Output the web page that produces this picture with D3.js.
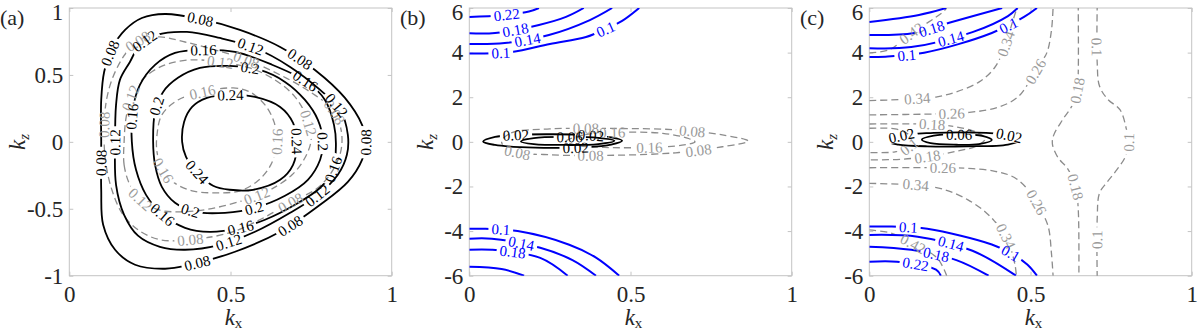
<!DOCTYPE html>
<html>
<head>
<meta charset="utf-8">
<script src="https://cdn.jsdelivr.net/npm/d3@7"></script>
<style>
body { margin: 0; background: #fff; }
svg { display: block; font-family: "Liberation Serif", "DejaVu Serif", serif; }
</style>
</head>
<body>
<div id="chart"></div>
<script>
////////////////////////////////////////////////////////////
//////////////////////// Data //////////////////////////////
////////////////////////////////////////////////////////////

var panelNames = ["(a)", "(b)", "(c)"];
var xTicks = [0, 0.5, 1];
var yTicksA = [-1, -0.5, 0, 0.5, 1];
var yTicksBC = [-6, -4, -2, 0, 2, 4, 6];

// contour lines, as [kx, kz] points
// panel (a) : black solid
var aK08 = [[0.099,0],[0.099,0.313],[0.108,0.522],[0.133,0.70],[0.173,0.836],[0.225,0.925],[0.297,0.955],[0.405,0.918],[0.529,0.836],[0.654,0.709],[0.762,0.537],[0.855,0.328],[0.908,0.127],[0.920,0],[0.908,-0.134],[0.864,-0.299],[0.778,-0.470],[0.654,-0.672],[0.514,-0.821],[0.374,-0.918],[0.297,-0.948],[0.204,-0.918],[0.142,-0.806],[0.105,-0.619],[0.099,-0.358]];
var aK12 = [[0.142,0],[0.145,0.276],[0.157,0.463],[0.188,0.597],[0.219,0.724],[0.272,0.799],[0.365,0.821],[0.467,0.776],[0.576,0.701],[0.685,0.560],[0.778,0.388],[0.840,0.239],[0.864,0.052],[0.861,-0.097],[0.833,-0.246],[0.771,-0.396],[0.685,-0.530],[0.576,-0.672],[0.467,-0.769],[0.359,-0.806],[0.281,-0.784],[0.213,-0.701],[0.170,-0.545],[0.145,-0.321]];
var aK16 = [[0.194,0],[0.197,0.239],[0.219,0.425],[0.266,0.575],[0.328,0.664],[0.415,0.687],[0.514,0.672],[0.623,0.582],[0.737,0.448],[0.793,0.313],[0.821,0.127],[0.827,-0.022],[0.818,-0.209],[0.778,-0.343],[0.700,-0.470],[0.607,-0.582],[0.529,-0.642],[0.436,-0.672],[0.359,-0.642],[0.290,-0.545],[0.238,-0.396],[0.207,-0.209]];
var aK20 = [[0.260,0],[0.266,0.224],[0.291,0.373],[0.337,0.478],[0.405,0.552],[0.498,0.567],[0.591,0.537],[0.669,0.448],[0.731,0.313],[0.771,0.164],[0.787,0],[0.778,-0.134],[0.740,-0.284],[0.669,-0.403],[0.576,-0.493],[0.483,-0.530],[0.390,-0.522],[0.328,-0.455],[0.287,-0.336],[0.266,-0.172]];
var aK24 = [[0.350,0],[0.356,0.149],[0.381,0.261],[0.427,0.328],[0.498,0.351],[0.576,0.336],[0.654,0.261],[0.694,0.142],[0.706,-0.007],[0.694,-0.172],[0.654,-0.284],[0.570,-0.358],[0.498,-0.358],[0.446,-0.328],[0.396,-0.224],[0.362,-0.112]];
// panel (a) : grey dashed
var aG08 = [[0.108,0],[0.111,0.239],[0.124,0.403],[0.145,0.537],[0.176,0.664],[0.219,0.761],[0.281,0.784],[0.359,0.746],[0.452,0.687],[0.551,0.612],[0.654,0.500],[0.747,0.373],[0.818,0.239],[0.843,0.090],[0.843,-0.060],[0.818,-0.209],[0.771,-0.343],[0.685,-0.455],[0.591,-0.582],[0.498,-0.679],[0.374,-0.731],[0.281,-0.731],[0.213,-0.657],[0.163,-0.530],[0.132,-0.358],[0.114,-0.172]];
var aG12 = [[0.170,0],[0.170,-0.172],[0.188,-0.321],[0.222,-0.433],[0.275,-0.507],[0.359,-0.522],[0.452,-0.493],[0.545,-0.433],[0.623,-0.358],[0.691,-0.246],[0.731,-0.119],[0.750,0.015],[0.737,0.179],[0.700,0.336],[0.638,0.463],[0.560,0.552],[0.467,0.597],[0.374,0.612],[0.297,0.575],[0.235,0.485],[0.194,0.351],[0.176,0.179]];
var aG16 = [[0.272,0.052],[0.287,0.201],[0.337,0.313],[0.415,0.373],[0.508,0.403],[0.560,0.373],[0.607,0.276],[0.635,0.149],[0.644,-0.007],[0.625,-0.172],[0.585,-0.291],[0.529,-0.366],[0.452,-0.381],[0.381,-0.366],[0.322,-0.299],[0.287,-0.194],[0.272,-0.075]];

// label positions, panel (a)
var aK08Lab = [[0.127,0.664],[0.405,0.896],[0.709,0.597],[0.914,0],[0.691,-0.642],[0.393,-0.881],[0.092,-0.157]];
var aK12Lab = [[0.229,0.761],[0.560,0.709],[0.840,0.291],[0.778,-0.433],[0.498,-0.769],[0.136,0]];
var aK16Lab = [[0.194,0.187],[0.415,0.687],[0.737,0.463],[0.818,-0.209],[0.529,-0.642],[0.290,-0.545]];
var aK20Lab = [[0.275,0.261],[0.560,0.537],[0.787,0],[0.374,-0.530],[0.576,-0.507]];
var aK24Lab = [[0.498,0.351],[0.706,0],[0.396,-0.224]];
var aG08Lab = [[0.210,0.761],[0.551,0.612],[0.108,0.127],[0.827,0.224],[0.685,-0.455],[0.374,-0.731]];
var aG12Lab = [[0.179,0.336],[0.467,0.590],[0.744,0.142],[0.222,-0.433],[0.582,-0.410]];
var aG16Lab = [[0.415,0.373],[0.641,0],[0.290,-0.209]];

// panel (b) : blue solid
var bB10Top = [[0,3.96],[0.132,4.03],[0.25,4.39],[0.362,4.70],[0.424,5.06],[0.474,5.42],[0.527,6.0]];
var bB14Top = [[0,4.39],[0.11,4.43],[0.247,4.79],[0.374,5.46],[0.443,6.0]];
var bB18Top = [[0,4.87],[0.08,4.88],[0.216,5.24],[0.30,5.6],[0.355,6.0]];
var bB22Top = [[0,5.6],[0.1,5.68],[0.185,5.84],[0.216,6.0]];
var bB10Bot = [[0,-3.9],[0.05,-3.9],[0.15,-4.0],[0.31,-4.61],[0.393,-5.19],[0.465,-6.0]];
var bB14Bot = [[0,-4.34],[0.07,-4.34],[0.22,-4.75],[0.32,-5.3],[0.393,-6.0]];
var bB18Bot = [[0,-4.84],[0.07,-4.84],[0.22,-5.2],[0.305,-6.0]];
var bB22Bot = [[0,-5.6],[0.1,-5.7],[0.17,-6.0]];
// panel (b) : black solid, grey dashed
var bK02 = [[0.043,0.01],[0.08,0.22],[0.16,0.32],[0.26,0.34],[0.37,0.3],[0.44,0.2],[0.474,0.05],[0.44,-0.12],[0.36,-0.24],[0.26,-0.27],[0.16,-0.24],[0.08,-0.14]];
var bK06 = [[0.16,0.02],[0.2,0.17],[0.3,0.22],[0.4,0.18],[0.45,0.05],[0.4,-0.1],[0.3,-0.14],[0.2,-0.1]];
var bG08 = [[0.1,0.0],[0.13,0.4],[0.25,0.58],[0.45,0.6],[0.64,0.54],[0.785,0.31],[0.865,0.03],[0.785,-0.22],[0.64,-0.49],[0.45,-0.6],[0.25,-0.58],[0.13,-0.4]];
var bG16 = [[0.3,0.02],[0.36,0.32],[0.48,0.43],[0.6,0.38],[0.68,0.15],[0.70,0.0],[0.66,-0.15],[0.55,-0.25],[0.42,-0.25],[0.33,-0.15]];

var bB10TopLab = [[0.098,4.0],[0.424,5.06]];
var bB14TopLab = [[0.18,4.57]];
var bB18TopLab = [[0.145,5.02]];
var bB22TopLab = [[0.117,5.72]];
var bB10BotLab = [[0.098,-3.94]];
var bB14BotLab = [[0.16,-4.55]];
var bB18BotLab = [[0.133,-5.0]];
var bK02Lab = [[0.145,0.3],[0.378,0.28],[0.331,-0.25]];
var bK06Lab = [[0.31,0.22]];
var bG08Lab = [[0.362,0.62],[0.69,0.5],[0.712,-0.3],[0.378,-0.6],[0.148,-0.4]];
var bG16Lab = [[0.442,0.42],[0.557,-0.22]];

// panel (c) : blue solid
var cB10Top = [[0,3.8],[0.05,3.82],[0.17,3.99],[0.38,4.88],[0.48,5.6],[0.52,6.0]];
var cB14Top = [[0,4.2],[0.13,4.25],[0.32,4.92],[0.43,5.64],[0.46,6.0]];
var cB18Top = [[0,4.79],[0.14,4.88],[0.256,5.37],[0.412,6.0]];
var cB22Top = [[0,5.37],[0.154,5.69],[0.238,6.0]];
var cB10Bot = [[0,-3.8],[0.07,-3.8],[0.18,-3.9],[0.38,-4.6],[0.44,-5.0],[0.49,-5.5],[0.52,-6]];
var cB14Bot = [[0,-4.17],[0.15,-4.25],[0.32,-4.88],[0.455,-6]];
var cB18Bot = [[0,-4.7],[0.13,-4.84],[0.27,-5.3],[0.37,-6]];
var cB22Bot = [[0,-5.37],[0.086,-5.37],[0.207,-5.73],[0.222,-6]];
// panel (c) : grey dashed
var cG42Top = [[0,3.99],[0.06,4.12],[0.132,4.88],[0.225,5.78],[0.24,6.0]];
var cG42Bot = [[0,-3.95],[0.07,-4.1],[0.14,-4.6],[0.21,-5.2],[0.24,-6]];
var cG34Top = [[0,1.85],[0.1,1.9],[0.15,1.95],[0.21,2.02],[0.27,2.24],[0.341,2.69],[0.388,3.31],[0.419,4.21],[0.446,5.46],[0.458,6]];
var cG34Bot = [[0,-1.86],[0.1,-1.9],[0.15,-1.93],[0.235,-2.15],[0.306,-2.6],[0.359,-3.13],[0.39,-3.58],[0.418,-4.07],[0.44,-4.84],[0.453,-5.6],[0.456,-6]];
var cG26Top = [[0,1.21],[0.2,1.25],[0.31,1.32],[0.4,1.55],[0.46,2.0],[0.5,2.78],[0.53,3.5],[0.551,4.0],[0.565,5.0],[0.57,6.0]];
var cG26Bot = [[0,-1.16],[0.2,-1.16],[0.3,-1.18],[0.39,-1.32],[0.45,-1.6],[0.5,-2.28],[0.53,-3.0],[0.555,-3.8],[0.565,-5.0],[0.57,-6]];
var cG18Left = [[0,0.8],[0.1,0.81],[0.194,0.79],[0.27,0.67],[0.33,0.45],[0.36,0.15],[0.33,-0.2],[0.27,-0.42],[0.18,-0.66],[0.1,-0.78],[0,-0.81]];
var cG10Left = [[0,0.61],[0.08,0.58],[0.12,0.35],[0.135,0.0],[0.12,-0.25],[0.08,-0.45],[0,-0.48]];
var cG18Right = [[0.648,6.2],[0.648,3.0],[0.645,2.3],[0.628,1.6],[0.6,1.0],[0.572,0.3],[0.568,-0.1],[0.585,-0.7],[0.615,-1.2],[0.64,-2.0],[0.648,-3.0],[0.65,-6.2]];
var cG10Right = [[0.707,6.2],[0.707,3.5],[0.714,2.5],[0.74,1.9],[0.778,1.43],[0.8,0.4],[0.805,0],[0.794,-0.67],[0.768,-1.25],[0.738,-1.8],[0.714,-2.3],[0.707,-3.4],[0.707,-6.2]];
// panel (c) : black solid
var cK02 = [[0.06,0.0],[0.1,0.28],[0.2,0.4],[0.32,0.42],[0.42,0.33],[0.47,0.1],[0.43,-0.12],[0.3,-0.2],[0.18,-0.2],[0.09,-0.12]];
var cK06 = [[0.163,0.1],[0.2,0.28],[0.28,0.33],[0.35,0.27],[0.38,0.08],[0.34,-0.1],[0.27,-0.13],[0.19,-0.06]];

var cB10TopLab = [[0.114,3.9],[0.433,5.15]];
var cB14TopLab = [[0.253,4.7]];
var cB18TopLab = [[0.194,5.1]];
var cB10BotLab = [[0.123,-3.85],[0.44,-4.98]];
var cB14BotLab = [[0.253,-4.6]];
var cB18BotLab = [[0.207,-5.05]];
var cB22BotLab = [[0.145,-5.55]];
var cG42TopLab = [[0.132,4.88]];
var cG42BotLab = [[0.138,-4.5]];
var cG34TopLab = [[0.148,1.95],[0.425,4.4]];
var cG34BotLab = [[0.145,-1.93],[0.425,-4.25]];
var cG26TopLab = [[0.254,1.28],[0.527,3.1]];
var cG26BotLab = [[0.226,-1.14],[0.52,-2.7]];
var cG18LeftLab = [[0.194,0.79],[0.179,-0.67]];
var cG10LeftLab = [[0.125,-0.2]];
var cG18RightLab = [[0.645,2.33],[0.645,-2.0]];
var cG10RightLab = [[0.708,4.25],[0.805,0.0],[0.708,-4.39]];
var cK02Lab = [[0.102,0.22],[0.433,0.25]];
var cK06Lab = [[0.278,0.33]];

////////////////////////////////////////////////////////////
//////////////////////// Set-Up ////////////////////////////
////////////////////////////////////////////////////////////

var W = 1200, H = 333;
var plotTop = 8, plotBot = 275.7, plotW = 322.4;
var panelLeft = [69.3, 469.3, 869.3];
var ylabShift = [44, 36, 36];

var styles = {
  k: {stroke: "#000", width: 1.8, dash: null, label: "#000"},
  g: {stroke: "#8c8c8c", width: 1.3, dash: "7,4", label: "#9a9a9a"},
  b: {stroke: "#0000ff", width: 2, dash: null, label: "#0000ff"}
};

function C(lev, kind, pts, lab, closed) {
  return {lev: lev, kind: kind, pts: pts, lab: lab || [], closed: closed};
}

var panels = [
  {yDomain: [-1, 1], yTicks: yTicksA, contours: [
    C("0.08","g",aG08,aG08Lab,true), C("0.12","g",aG12,aG12Lab,true), C("0.16","g",aG16,aG16Lab,true),
    C("0.08","k",aK08,aK08Lab,true), C("0.12","k",aK12,aK12Lab,true), C("0.16","k",aK16,aK16Lab,true),
    C("0.2","k",aK20,aK20Lab,true), C("0.24","k",aK24,aK24Lab,true)]},
  {yDomain: [-6, 6], yTicks: yTicksBC, contours: [
    C("0.08","g",bG08,bG08Lab,true), C("0.16","g",bG16,bG16Lab,true),
    C("0.02","k",bK02,bK02Lab,true), C("0.06","k",bK06,bK06Lab,true),
    C("0.1","b",bB10Top,bB10TopLab,false), C("0.14","b",bB14Top,bB14TopLab,false),
    C("0.18","b",bB18Top,bB18TopLab,false), C("0.22","b",bB22Top,bB22TopLab,false),
    C("0.1","b",bB10Bot,bB10BotLab,false), C("0.14","b",bB14Bot,bB14BotLab,false),
    C("0.18","b",bB18Bot,bB18BotLab,false), C("0.22","b",bB22Bot,[],false)]},
  {yDomain: [-6, 6], yTicks: yTicksBC, contours: [
    C("0.42","g",cG42Top,cG42TopLab,false), C("0.42","g",cG42Bot,cG42BotLab,false),
    C("0.34","g",cG34Top,cG34TopLab,false), C("0.34","g",cG34Bot,cG34BotLab,false),
    C("0.26","g",cG26Top,cG26TopLab,false), C("0.26","g",cG26Bot,cG26BotLab,false),
    C("0.18","g",cG18Left,cG18LeftLab,false), C("0.1","g",cG10Left,cG10LeftLab,false),
    C("0.18","g",cG18Right,cG18RightLab,false), C("0.1","g",cG10Right,cG10RightLab,false),
    C("0.02","k",cK02,cK02Lab,true), C("0.06","k",cK06,cK06Lab,true),
    C("0.1","b",cB10Top,cB10TopLab,false), C("0.14","b",cB14Top,cB14TopLab,false),
    C("0.18","b",cB18Top,cB18TopLab,false), C("0.22","b",cB22Top,[],false),
    C("0.1","b",cB10Bot,cB10BotLab,false), C("0.14","b",cB14Bot,cB14BotLab,false),
    C("0.18","b",cB18Bot,cB18BotLab,false), C("0.22","b",cB22Bot,cB22BotLab,false)]}
];

var svg = d3.select("#chart").append("svg")
  .attr("width", W)
  .attr("height", H);
var defs = svg.append("defs");

////////////////////////////////////////////////////////////
//////////////////////// Panels ////////////////////////////
////////////////////////////////////////////////////////////

panels.forEach(function(p, pi) {
  var x0 = panelLeft[pi];
  var x = d3.scaleLinear().domain([0, 1]).range([x0, x0 + plotW]);
  var y = d3.scaleLinear().domain(p.yDomain).range([plotBot, plotTop]);
  var g = svg.append("g");

  defs.append("clipPath").attr("id", "clip" + pi)
    .append("rect")
    .attr("x", x0).attr("y", plotTop)
    .attr("width", plotW).attr("height", plotBot - plotTop);

  //frame
  g.append("rect")
    .attr("x", x0).attr("y", plotTop)
    .attr("width", plotW).attr("height", plotBot - plotTop)
    .attr("fill", "none").attr("stroke", "#c4c4c4").attr("stroke-width", 1);

  //axes, ticks pointing inside like matlab
  function styleAxis(sel) {
    sel.select(".domain").remove();
    sel.selectAll(".tick line").attr("stroke", "#c4c4c4");
    sel.selectAll(".tick text").attr("fill", "#262626")
      .style("font-size", "23px").style("font-family", "'Liberation Serif', serif");
  }
  var fmt = function(d) { return String(d); };
  g.append("g").attr("transform", "translate(0," + plotBot + ")")
    .call(d3.axisBottom(x).tickValues(xTicks).tickFormat(fmt).tickSizeInner(-4).tickSizeOuter(0).tickPadding(10))
    .call(styleAxis);
  g.append("g").attr("transform", "translate(0," + plotTop + ")")
    .call(d3.axisTop(x).tickValues(xTicks).tickFormat("").tickSizeInner(-4).tickSizeOuter(0))
    .call(styleAxis);
  var yAx = g.append("g").attr("transform", "translate(" + x0 + ",0)")
    .call(d3.axisLeft(y).tickValues(p.yTicks).tickFormat(fmt).tickSizeInner(-4).tickSizeOuter(0).tickPadding(6))
    .call(styleAxis);
  //top tick label sits a little lower, as in the figure
  yAx.selectAll(".tick text")
    .filter(function(d) { return d === p.yDomain[1]; })
    .attr("dy", "0.52em");
  g.append("g").attr("transform", "translate(" + (x0 + plotW) + ",0)")
    .call(d3.axisRight(y).tickValues(p.yTicks).tickFormat("").tickSizeInner(-4).tickSizeOuter(0))
    .call(styleAxis);

  //axis titles
  var xl = g.append("text")
    .attr("x", x0 + plotW / 2 + 3).attr("y", 325)
    .attr("text-anchor", "middle").attr("fill", "#262626")
    .style("font-size", "23px");
  xl.append("tspan").style("font-style", "italic").text("k");
  xl.append("tspan").attr("dy", 3).style("font-size", "15px").text("x");

  var yl = g.append("text")
    .attr("transform", "translate(" + (x0 - ylabShift[pi]) + "," + 142 + ") rotate(-90)")
    .attr("text-anchor", "middle").attr("fill", "#262626")
    .style("font-size", "23px");
  yl.append("tspan").style("font-style", "italic").text("k");
  yl.append("tspan").attr("dy", 4).style("font-size", "15px").style("font-style", "italic").text("z");

  g.append("text")
    .attr("x", x0 - 69.3).attr("y", 25)
    .attr("fill", "#262626")
    .style("font-size", "22px")
    .text(panelNames[pi]);

  //contours
  var lineG = g.append("g").attr("clip-path", "url(#clip" + pi + ")");
  var labG = g.append("g");

  p.contours.forEach(function(c, ci) {
    var st = styles[c.kind];
    var line = d3.line()
      .x(function(d) { return x(d[0]); })
      .y(function(d) { return y(d[1]); })
      .curve(c.closed ? d3.curveCatmullRomClosed.alpha(0.5) : d3.curveCatmullRom.alpha(0.5));

    var path = lineG.append("path")
      .attr("d", line(c.pts))
      .attr("fill", "none")
      .attr("stroke", st.stroke)
      .attr("stroke-width", st.width)
      .attr("stroke-dasharray", st.dash);

    if (!c.lab.length) return;

    var node = path.node(), L = node.getTotalLength();
    var samples = [];
    for (var s = 0; s <= L; s += 1.5) samples.push({s: s, pt: node.getPointAtLength(s)});

    var maskId = "m" + pi + "_" + ci;
    var mask = defs.append("mask").attr("id", maskId)
      .attr("maskUnits", "userSpaceOnUse")
      .attr("x", 0).attr("y", 0).attr("width", W).attr("height", H);
    mask.append("rect").attr("width", W).attr("height", H).attr("fill", "#fff");

    c.lab.forEach(function(l) {
      var px = x(l[0]), py = y(l[1]);
      var best = samples[0], bd = Infinity;
      samples.forEach(function(sm) {
        var dd = (sm.pt.x - px) * (sm.pt.x - px) + (sm.pt.y - py) * (sm.pt.y - py);
        if (dd < bd) { bd = dd; best = sm; }
      });
      var a = node.getPointAtLength(Math.max(0, best.s - 5));
      var b = node.getPointAtLength(Math.min(L, best.s + 5));
      var ang = Math.atan2(b.y - a.y, b.x - a.x) * 180 / Math.PI;
      if (ang > 90) ang -= 180;
      if (ang < -90) ang += 180;
      var tr = "translate(" + best.pt.x + "," + best.pt.y + ") rotate(" + ang + ")";

      var t = labG.append("text")
        .attr("transform", tr)
        .attr("text-anchor", "middle")
        .attr("dy", "0.35em")
        .attr("fill", st.label)
        .style("font-size", "15px")
        .text(c.lev);
      var tw = t.node().getComputedTextLength();

      mask.append("rect")
        .attr("transform", tr)
        .attr("x", -tw / 2 - 3).attr("y", -6)
        .attr("width", tw + 6).attr("height", 12)
        .attr("fill", "#000");
    });

    path.attr("mask", "url(#" + maskId + ")");
  });
});
</script>
</body>
</html>
